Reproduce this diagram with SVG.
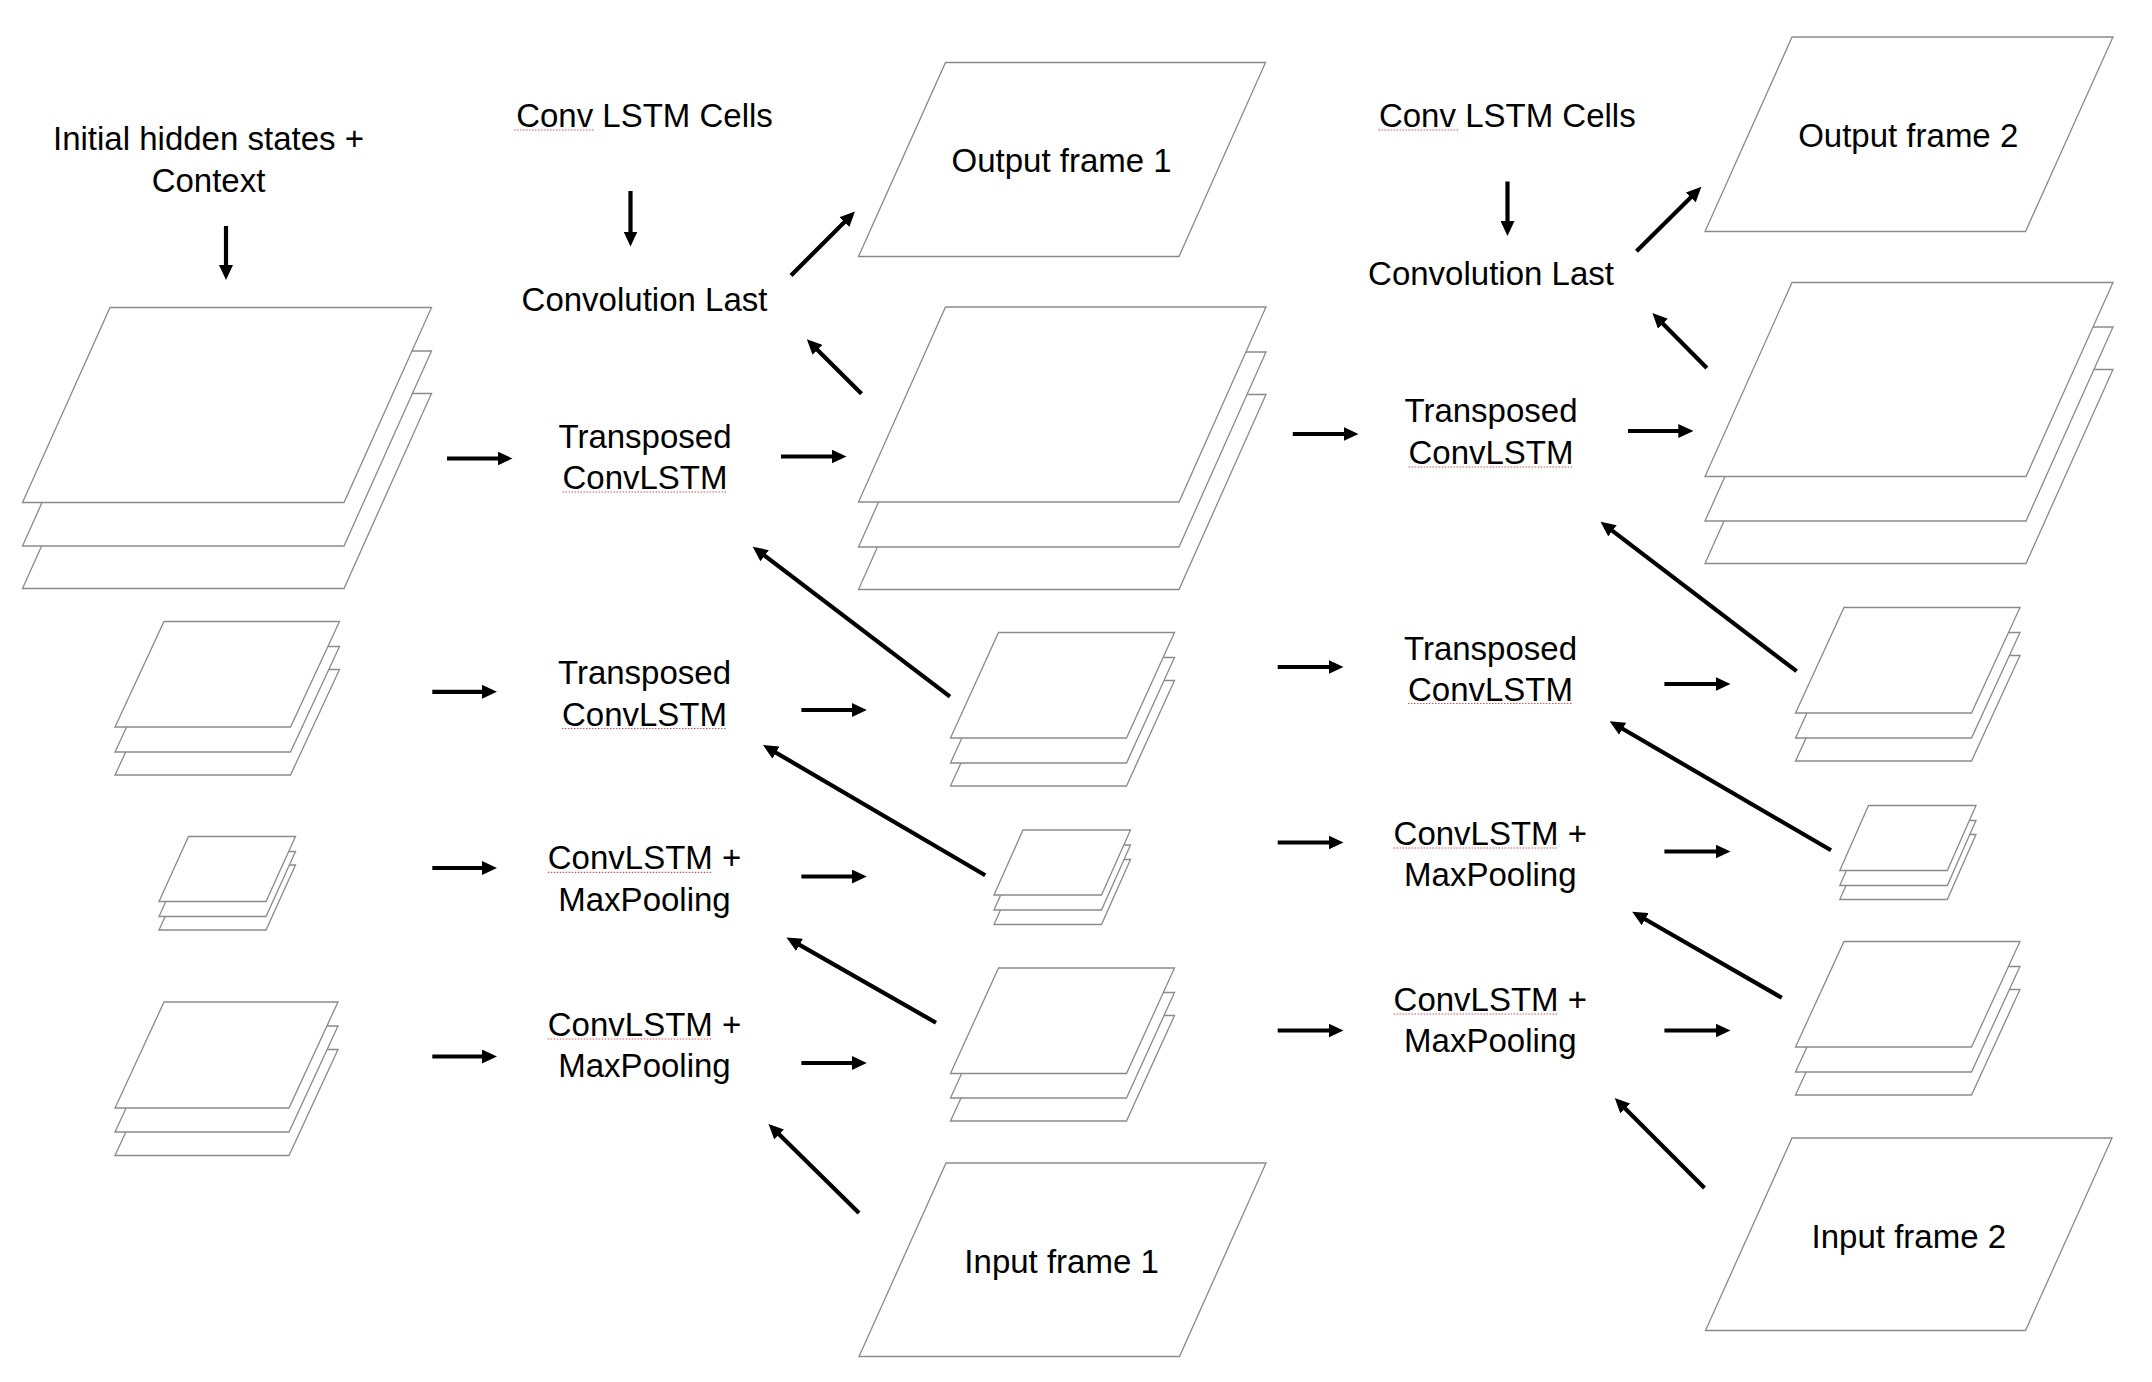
<svg xmlns="http://www.w3.org/2000/svg" width="2152" height="1382" viewBox="0 0 2152 1382">
<style>
  .sheet{fill:#ffffff;stroke:#8a8a8a;stroke-width:1.3;stroke-linejoin:miter}
  .lbl{font-family:"Liberation Sans",Arial,Helvetica,sans-serif;font-size:33px;fill:#000000;text-anchor:middle}
  .conn line{stroke:#000000;stroke-width:4.2;marker-end:url(#ah)}
  .spell{stroke:#e05050;stroke-width:1.2;stroke-dasharray:1.5 1.5;fill:none}
</style>
<defs>
  <marker id="ah" markerUnits="userSpaceOnUse" markerWidth="15" markerHeight="14" refX="7" refY="7" orient="auto">
    <path d="M0,0 L15,7 L0,14 z" fill="#000000"/>
  </marker>
</defs>
<rect width="2152" height="1382" fill="#ffffff"/>

<!-- Column 0: initial hidden states -->
<g id="label-initial">
  <text class="lbl" x="208.5" y="150">Initial hidden states +</text>
  <text class="lbl" x="208.5" y="191.5">Context</text>
</g>
<g id="stack-init-1">
  <polygon class="sheet" points="110,393.5 431.5,393.5 344,588.5 22.5,588.5"/>
  <polygon class="sheet" points="110,351 431.5,351 344,546 22.5,546"/>
  <polygon class="sheet" points="110,307.5 431.5,307.5 344,502.5 22.5,502.5"/>
</g>
<g id="stack-init-2">
  <polygon class="sheet" points="164,669.5 339.5,669.5 290.5,775 115,775"/>
  <polygon class="sheet" points="164,646.5 339.5,646.5 290.5,752 115,752"/>
  <polygon class="sheet" points="164,621.5 339.5,621.5 290.5,727 115,727"/>
</g>
<g id="stack-init-3">
  <polygon class="sheet" points="188.5,865 295.5,865 266,930 159,930"/>
  <polygon class="sheet" points="188.5,851.5 295.5,851.5 266,916.5 159,916.5"/>
  <polygon class="sheet" points="188.5,836.5 295.5,836.5 266,901.5 159,901.5"/>
</g>
<g id="stack-init-4">
  <polygon class="sheet" points="164,1049.5 338,1049.5 289,1155.5 115,1155.5"/>
  <polygon class="sheet" points="164,1026 338,1026 289,1132 115,1132"/>
  <polygon class="sheet" points="164,1002 338,1002 289,1108 115,1108"/>
</g>

<!-- Column 1: cells for frame 1 -->
<g id="label-cells-1"><text class="lbl" x="644.5" y="127">Conv LSTM Cells</text></g>
<g id="conv-last-1"><text class="lbl" x="644.5" y="310.7">Convolution Last</text></g>
<g id="tconv-1-1">
  <text class="lbl" x="645" y="447.5">Transposed</text>
  <text class="lbl" x="645" y="489">ConvLSTM</text>
</g>
<g id="tconv-1-2">
  <text class="lbl" x="644.5" y="684">Transposed</text>
  <text class="lbl" x="644.5" y="725.5">ConvLSTM</text>
</g>
<g id="convpool-1-3">
  <text class="lbl" x="644.5" y="869.3">ConvLSTM +</text>
  <text class="lbl" x="644.5" y="910.5">MaxPooling</text>
</g>
<g id="convpool-1-4">
  <text class="lbl" x="644.5" y="1036">ConvLSTM +</text>
  <text class="lbl" x="644.5" y="1077">MaxPooling</text>
</g>

<g id="output-frame-1">
  <polygon class="sheet" points="945.5,62.5 1265.5,62.5 1179,256.5 858.5,256.5"/>
  <text class="lbl" x="1061.6" y="171.5">Output frame 1</text>
</g>
<g id="stack-1-1">
  <polygon class="sheet" points="945.5,394.5 1266,394.5 1179,589.5 858.5,589.5"/>
  <polygon class="sheet" points="945.5,352 1266,352 1179,547 858.5,547"/>
  <polygon class="sheet" points="945.5,307 1266,307 1179,502 858.5,502"/>
</g>
<g id="stack-1-2">
  <polygon class="sheet" points="998.5,680.5 1174.5,680.5 1126.5,786 950.5,786"/>
  <polygon class="sheet" points="998.5,657.5 1174.5,657.5 1126.5,763 950.5,763"/>
  <polygon class="sheet" points="998.5,632.5 1174.5,632.5 1126.5,738 950.5,738"/>
</g>
<g id="stack-1-3">
  <polygon class="sheet" points="1023,859.5 1130.5,859.5 1101.5,924.5 994,924.5"/>
  <polygon class="sheet" points="1023,845 1130.5,845 1101.5,910 994,910"/>
  <polygon class="sheet" points="1023,830 1130.5,830 1101.5,895 994,895"/>
</g>
<g id="stack-1-4">
  <polygon class="sheet" points="998.5,1015.5 1174.5,1015.5 1126.5,1121 950.5,1121"/>
  <polygon class="sheet" points="998.5,992.5 1174.5,992.5 1126.5,1098 950.5,1098"/>
  <polygon class="sheet" points="998.5,968 1174.5,968 1126.5,1073.5 950.5,1073.5"/>
</g>
<g id="input-frame-1">
  <polygon class="sheet" points="946,1163 1266,1163 1179.5,1356.5 859,1356.5"/>
  <text class="lbl" x="1061.6" y="1273">Input frame 1</text>
</g>

<!-- Column 2: cells for frame 2 -->
<g id="label-cells-2"><text class="lbl" x="1507.3" y="127">Conv LSTM Cells</text></g>
<g id="conv-last-2"><text class="lbl" x="1491" y="285">Convolution Last</text></g>
<g id="tconv-2-1">
  <text class="lbl" x="1491" y="422">Transposed</text>
  <text class="lbl" x="1491" y="464">ConvLSTM</text>
</g>
<g id="tconv-2-2">
  <text class="lbl" x="1490.5" y="659.5">Transposed</text>
  <text class="lbl" x="1490.5" y="700.5">ConvLSTM</text>
</g>
<g id="convpool-2-3">
  <text class="lbl" x="1490.3" y="845">ConvLSTM +</text>
  <text class="lbl" x="1490.3" y="886">MaxPooling</text>
</g>
<g id="convpool-2-4">
  <text class="lbl" x="1490.3" y="1011">ConvLSTM +</text>
  <text class="lbl" x="1490.3" y="1052">MaxPooling</text>
</g>

<g id="output-frame-2">
  <polygon class="sheet" points="1792,37 2113,37 2025.5,231.5 1705,231.5"/>
  <text class="lbl" x="1908.2" y="147">Output frame 2</text>
</g>
<g id="stack-2-1">
  <polygon class="sheet" points="1792,369.5 2113,369.5 2026,563.5 1705,563.5"/>
  <polygon class="sheet" points="1792,327 2113,327 2026,521 1705,521"/>
  <polygon class="sheet" points="1792,282.5 2113,282.5 2026,476.5 1705,476.5"/>
</g>
<g id="stack-2-2">
  <polygon class="sheet" points="1844,655.5 2020,655.5 1971.5,761 1795.5,761"/>
  <polygon class="sheet" points="1844,632.5 2020,632.5 1971.5,738 1795.5,738"/>
  <polygon class="sheet" points="1844,607.5 2020,607.5 1971.5,713 1795.5,713"/>
</g>
<g id="stack-2-3">
  <polygon class="sheet" points="1868.5,834.5 1976,834.5 1947.3,899.5 1839.8,899.5"/>
  <polygon class="sheet" points="1868.5,820.5 1976,820.5 1947.3,885.5 1839.8,885.5"/>
  <polygon class="sheet" points="1868.5,805.5 1976,805.5 1947.3,870.5 1839.8,870.5"/>
</g>
<g id="stack-2-4">
  <polygon class="sheet" points="1844,989.5 2020,989.5 1971.5,1095 1795.5,1095"/>
  <polygon class="sheet" points="1844,966.5 2020,966.5 1971.5,1072 1795.5,1072"/>
  <polygon class="sheet" points="1844,941.5 2020,941.5 1971.5,1047 1795.5,1047"/>
</g>
<g id="input-frame-2">
  <polygon class="sheet" points="1792,1138 2112,1138 2025.5,1330.5 1705.5,1330.5"/>
  <text class="lbl" x="1908.8" y="1247.5">Input frame 2</text>
</g>

<!-- spell-check underlines as printed in the picture -->
<g id="spellcheck-marks">
  <line class="spell" x1="514" y1="130" x2="594" y2="130"/>
  <line class="spell" x1="1378.5" y1="130" x2="1458" y2="130"/>
  <line class="spell" x1="562.5" y1="492" x2="727.5" y2="492"/>
  <line class="spell" x1="562" y1="728.5" x2="727" y2="728.5"/>
  <line class="spell" x1="547.7" y1="872.3" x2="712.7" y2="872.3"/>
  <line class="spell" x1="547.7" y1="1039" x2="712.7" y2="1039"/>
  <line class="spell" x1="1408.5" y1="467" x2="1573.5" y2="467"/>
  <line class="spell" x1="1408" y1="703.5" x2="1573" y2="703.5"/>
  <line class="spell" x1="1393.5" y1="848" x2="1558.5" y2="848"/>
  <line class="spell" x1="1393.5" y1="1014" x2="1558.5" y2="1014"/>
</g>

<!-- connectors -->
<g id="connectors" class="conn">
  <line x1="226" y1="226" x2="226" y2="272"/>
  <line x1="630.5" y1="191" x2="630.5" y2="238.5"/>
  <line x1="1507.5" y1="181.5" x2="1507.5" y2="228"/>

  <line x1="791" y1="275.5" x2="849.3" y2="217.2"/>
  <line x1="861.5" y1="393.8" x2="812.5" y2="344.9"/>
  <line x1="1636.5" y1="251.3" x2="1695.7" y2="192.5"/>
  <line x1="1706.8" y1="368" x2="1658" y2="318.7"/>

  <line x1="447" y1="458.5" x2="504.5" y2="458.5"/>
  <line x1="432.3" y1="691.8" x2="489" y2="691.8"/>
  <line x1="432.3" y1="868" x2="489" y2="868"/>
  <line x1="432.3" y1="1056.5" x2="489" y2="1056.5"/>

  <line x1="781" y1="456.5" x2="838.5" y2="456.5"/>
  <line x1="801.4" y1="710" x2="858.8" y2="710"/>
  <line x1="801.4" y1="876.5" x2="858.8" y2="876.5"/>
  <line x1="801.4" y1="1063" x2="858.8" y2="1063"/>

  <line x1="1292.8" y1="434" x2="1350.5" y2="434"/>
  <line x1="1277.7" y1="667" x2="1335.5" y2="667"/>
  <line x1="1277.7" y1="842.5" x2="1335.5" y2="842.5"/>
  <line x1="1277.7" y1="1030.5" x2="1335.5" y2="1030.5"/>

  <line x1="1628" y1="431" x2="1685.3" y2="431"/>
  <line x1="1664.4" y1="684" x2="1722.5" y2="684"/>
  <line x1="1664.4" y1="851.5" x2="1722.5" y2="851.5"/>
  <line x1="1664.4" y1="1030.5" x2="1722.5" y2="1030.5"/>

  <line x1="950" y1="696.7" x2="759.1" y2="551.5"/>
  <line x1="985.2" y1="875.3" x2="769.9" y2="749.1"/>
  <line x1="936" y1="1022.7" x2="793.4" y2="941.4"/>
  <line x1="859" y1="1213" x2="774.2" y2="1129.6"/>

  <line x1="1796.6" y1="671.2" x2="1606.9" y2="526.6"/>
  <line x1="1831" y1="850.3" x2="1616.6" y2="725.3"/>
  <line x1="1781.8" y1="997.8" x2="1639.1" y2="915.7"/>
  <line x1="1704.5" y1="1188" x2="1620.4" y2="1103.7"/>
</g>
</svg>
